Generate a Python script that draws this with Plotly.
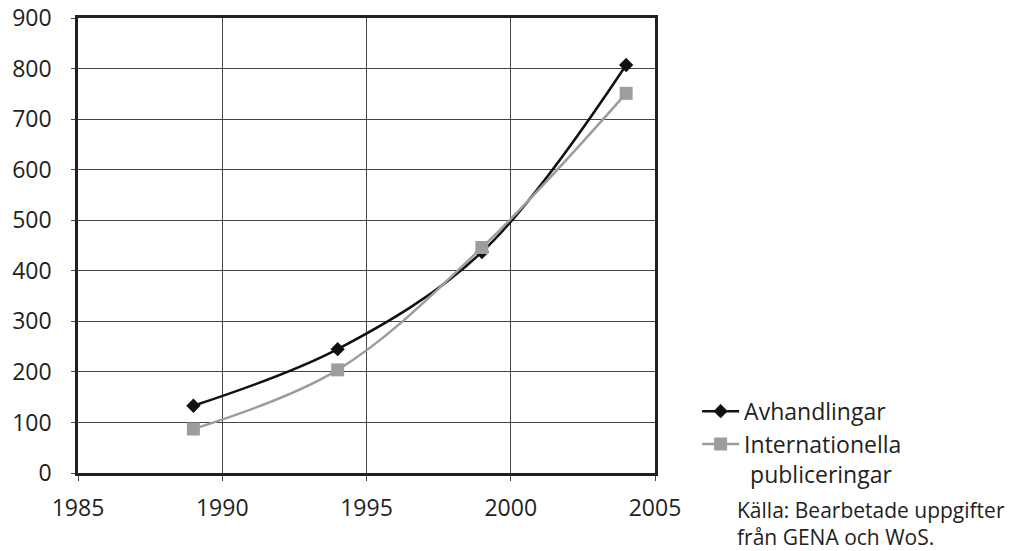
import plotly.graph_objects as go

years = [1989, 1994, 1999, 2004]
avhandlingar = [133, 245, 437, 807]
internationella = [87, 204, 446, 751]

x_ticks = [1985, 1990, 1995, 2000, 2005]
y_ticks = [0, 100, 200, 300, 400, 500, 600, 700, 800, 900]

FONT = "Open Sans"

fig = go.Figure()
fig.add_trace(go.Scatter(
    x=years, y=avhandlingar, name="Avhandlingar", mode="lines+markers",
    line=dict(color="#111111", width=2.5, shape="spline", smoothing=1.0),
    marker=dict(symbol="diamond", size=11, color="#111111"),
))
fig.add_trace(go.Scatter(
    x=years, y=internationella, name="Internationella<br> publiceringar", mode="lines+markers",
    line=dict(color="#9d9d9d", width=2.5, shape="spline", smoothing=1.0),
    marker=dict(symbol="square", size=13, color="#9d9d9d"),
))

fig.update_layout(
    width=1020, height=551,
    margin=dict(l=78, r=365, t=18, b=78, autoexpand=False),
    paper_bgcolor="white", plot_bgcolor="white",
    font=dict(family=FONT, size=23, color="#231f20"),
    legend=dict(x=1.073, y=0.183, xanchor="left", yanchor="top", valign="top",
                font=dict(family=FONT, size=23, color="#231f20"),
                bgcolor="rgba(0,0,0,0)", itemwidth=37, tracegroupgap=0),
    xaxis=dict(range=[1985, 2005], tickvals=x_ticks, showgrid=True,
               gridcolor="#444444", gridwidth=1, showline=True, linecolor="#231f20",
               linewidth=2.5, mirror=True, ticks="outside", ticklen=5,
               tickcolor="#444444", zeroline=False, ticklabelstandoff=8,
               automargin=False),
    yaxis=dict(range=[0, 900], tickvals=y_ticks, showgrid=True,
               gridcolor="#444444", gridwidth=1, showline=True, linecolor="#231f20",
               linewidth=2.5, mirror=True, ticks="outside", ticklen=4,
               tickcolor="#444444", zeroline=False, ticklabelstandoff=15,
               automargin=False),
    annotations=[dict(
        text="Källa: Bearbetade uppgifter<br>från GENA och WoS.",
        xref="paper", yref="paper", x=1.138, y=-0.046, xanchor="left", yanchor="top",
        showarrow=False, align="left",
        font=dict(family=FONT, size=21, color="#231f20"),
    )],
)

fig.write_html(
    "out.html",
    config={"displayModeBar": False},
    post_script="document.body.style.margin='0';document.body.style.overflow='hidden';",
)
